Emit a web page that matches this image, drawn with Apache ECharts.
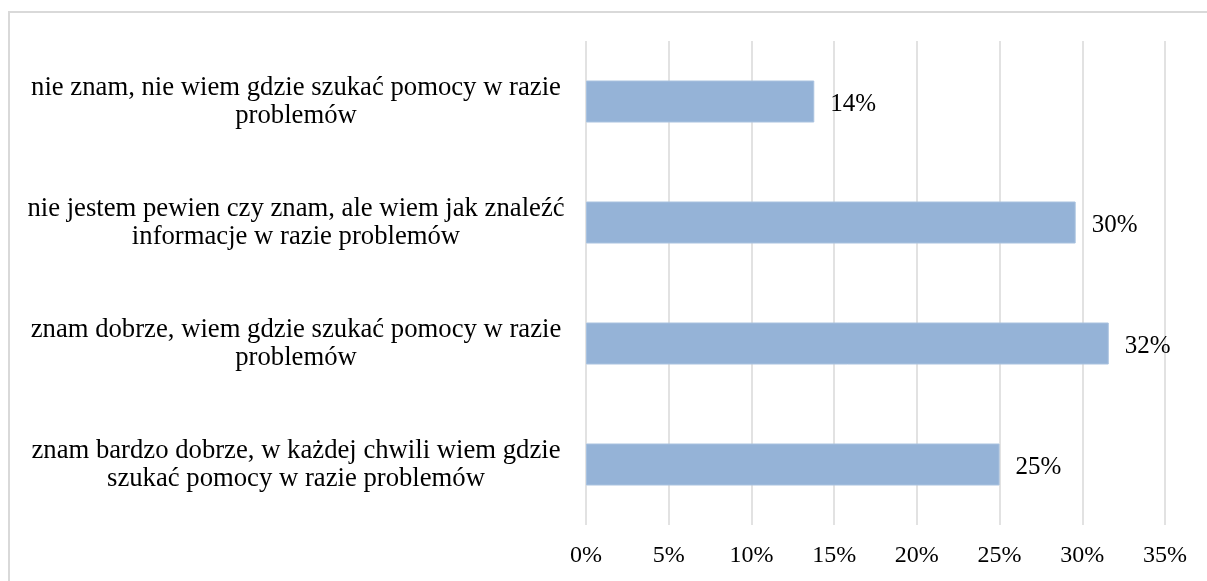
<!DOCTYPE html>
<html>
<head>
<meta charset="utf-8">
<script src="https://cdn.jsdelivr.net/npm/echarts@6/dist/echarts.min.js"></script>
<style>
  html, body { margin: 0; padding: 0; background: #ffffff; }
  #chart { width: 1207px; height: 581px; }
</style>
</head>
<body>
<div id="chart"></div>
<script>
// Answer categories, listed top to bottom
const categories = [
  'nie znam, nie wiem gdzie szukać pomocy w razie\nproblemów',
  'nie jestem pewien czy znam, ale wiem jak znaleźć\ninformacje w razie problemów',
  'znam dobrze, wiem gdzie szukać pomocy w razie\nproblemów',
  'znam bardzo dobrze, w każdej chwili wiem gdzie\nszukać pomocy w razie problemów'
];

// Share of respondents (%)
const shares = [13.8, 29.6, 31.6, 25.0];

// Value axis ticks (%)
const tickMin = 0;
const tickMax = 35;
const tickStep = 5;

const serif = '"Liberation Serif", "Times New Roman", "DejaVu Serif", serif';

const chart = echarts.init(document.getElementById('chart'), null, { renderer: 'canvas' });

chart.setOption({
  backgroundColor: '#ffffff',
  animation: false,
  graphic: [{
    type: 'rect',
    shape: { x: 9, y: 12, width: 1400, height: 800 },
    style: { fill: 'none', stroke: '#d9d9d9', lineWidth: 2 },
    silent: true,
    z: -1
  }],
  grid: { left: 586, right: 42, top: 41, bottom: 56, containLabel: false },
  xAxis: {
    type: 'value',
    min: tickMin,
    max: tickMax,
    interval: tickStep,
    axisLine: { show: false },
    axisTick: { show: false },
    splitLine: { show: true, lineStyle: { color: '#d9d9d9', width: 1.5 } },
    axisLabel: {
      formatter: v => v + '%',
      fontFamily: serif,
      fontSize: 24,
      color: '#000000',
      margin: 19
    }
  },
  yAxis: {
    type: 'category',
    data: categories,
    inverse: true,
    axisLine: { show: false },
    axisTick: { show: false },
    splitLine: { show: false },
    axisLabel: {
      fontFamily: serif,
      fontSize: 26.7,
      lineHeight: 28,
      color: '#000000',
      align: 'center',
      margin: 290
    }
  },
  series: [{
    type: 'bar',
    data: shares,
    barWidth: 42,
    itemStyle: { color: '#95b3d7', borderColor: '#a9c2df', borderWidth: 1 },
    label: {
      show: true,
      position: 'right',
      distance: 16,
      offset: [0, 3],
      formatter: p => Math.round(p.value) + '%',
      fontFamily: serif,
      fontSize: 25,
      color: '#000000'
    }
  }]
});
</script>
</body>
</html>
